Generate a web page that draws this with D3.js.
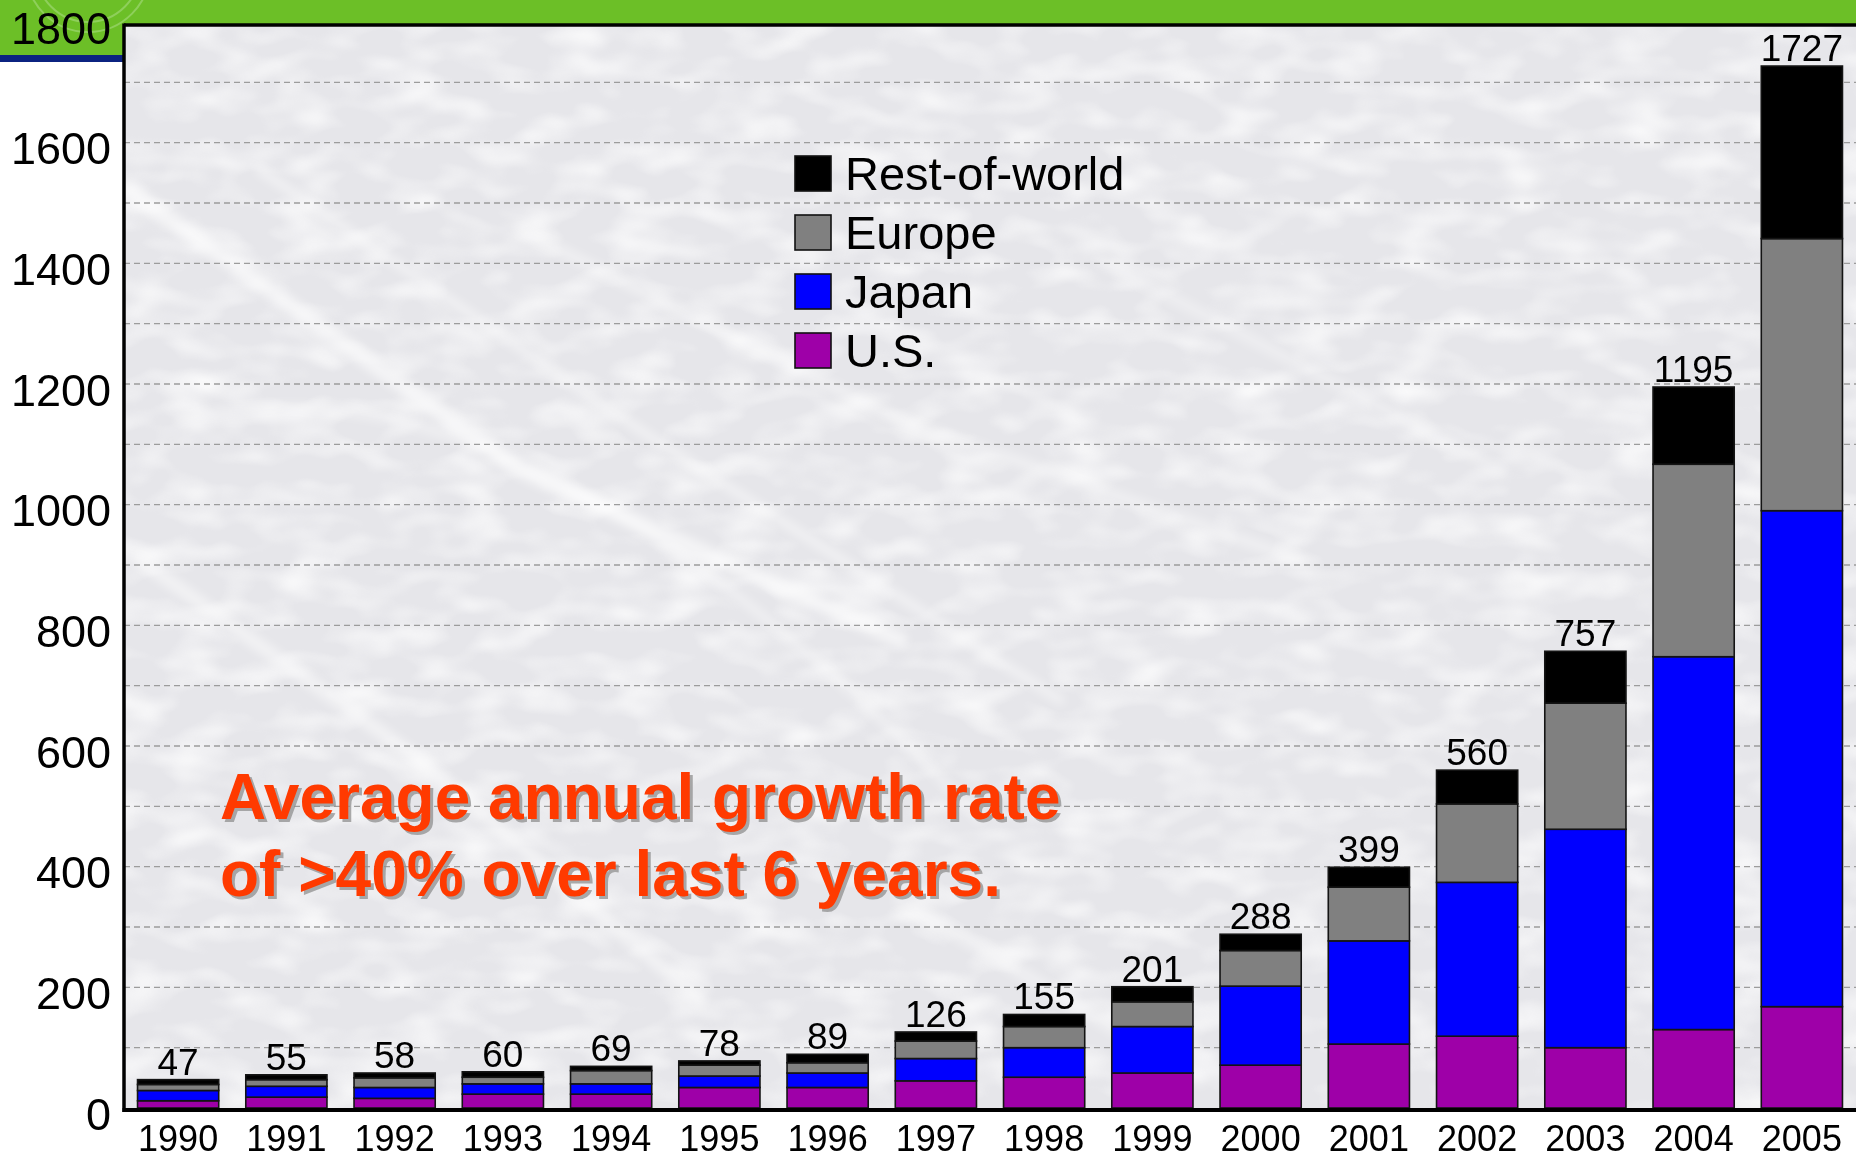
<!DOCTYPE html>
<html>
<head>
<meta charset="utf-8">
<script src="https://cdn.jsdelivr.net/npm/d3@7"></script>
<style>
  html, body { margin: 0; padding: 0; background: #ffffff; }
  svg { display: block; font-family: "Liberation Sans", Arial, Helvetica, sans-serif; }
</style>
</head>
<body>
<script>
// Annual totals by region, 1990-2005
const years = ["1990","1991","1992","1993","1994","1995","1996","1997",
               "1998","1999","2000","2001","2002","2003","2004","2005"];
const us          = [12, 18, 16, 23, 23, 34, 34, 45, 51, 58,  71, 106, 119, 100, 130, 168];
const japan       = [17, 18, 18, 17, 17, 19, 24, 37, 49, 77, 131, 171, 255, 362, 618, 822];
const europe      = [10, 11, 16, 11, 22, 18, 17, 29, 35, 41,  59,  89, 130, 209, 319, 451];
const restOfWorld = [ 8,  8,  8,  9,  7,  7, 14, 15, 20, 25,  27,  33,  56,  86, 128, 286];

const seriesKeys   = ["us", "japan", "europe", "row"];
const seriesNames  = { us: "U.S.", japan: "Japan", europe: "Europe", row: "Rest-of-world" };
const seriesColors = { us: "#9e00a8", japan: "#0000ff", europe: "#808080", row: "#000000" };
const legendOrder  = ["row", "europe", "japan", "us"];

const yTickLabels = [0, 200, 400, 600, 800, 1000, 1200, 1400, 1600, 1800];
const gridValues  = d3.range(100, 1800, 100);

const noteLines = ["Average annual growth rate", "of >40% over last 6 years."];

// ---- layout ----
const W = 1856, H = 1158;
const plotLeft = 124, plotTop = 25, plotBottom = 1108, plotRight = W;

const rows = years.map((yr, i) => ({
  year: yr, us: us[i], japan: japan[i], europe: europe[i], row: restOfWorld[i]
}));
const stacked = d3.stack().keys(seriesKeys)(rows);
const totals = rows.map(r => seriesKeys.reduce((s, k) => s + r[k], 0));

const x = d3.scaleBand().domain(years).range([plotLeft, plotRight])
  .paddingInner(0.25).paddingOuter(0.125);
const y = d3.scaleLinear().domain([0, 1800]).range([plotBottom, 22]);

const svg = d3.select("body").append("svg")
  .attr("width", W).attr("height", H).attr("viewBox", `0 0 ${W} ${H}`);

const defs = svg.append("defs");
defs.append("clipPath").attr("id", "plotClip")
  .append("rect").attr("x", plotLeft).attr("y", plotTop)
  .attr("width", plotRight - plotLeft).attr("height", plotBottom - plotTop);

// soft mottled texture for the plot background
const tex = defs.append("filter").attr("id", "mottle")
  .attr("x", 0).attr("y", 0).attr("width", "100%").attr("height", "100%");
tex.append("feTurbulence").attr("type", "fractalNoise")
  .attr("baseFrequency", "0.018 0.035").attr("numOctaves", 2).attr("seed", 7);
tex.append("feColorMatrix").attr("type", "matrix")
  .attr("values", "0 0 0 0 1  0 0 0 0 1  0 0 0 0 1  2.2 0 0 0 -0.95");

const blur = defs.append("filter").attr("id", "streakBlur")
  .attr("x", "-10%").attr("y", "-10%").attr("width", "120%").attr("height", "120%");
blur.append("feGaussianBlur").attr("stdDeviation", 5);

// ---- top banner ----
svg.append("rect").attr("x", 0).attr("y", 0).attr("width", W).attr("height", 30)
  .attr("fill", "#6cbf27");
svg.append("rect").attr("x", 0).attr("y", 0).attr("width", plotLeft).attr("height", 55)
  .attr("fill", "#6cbf27");
svg.append("rect").attr("x", 0).attr("y", 55).attr("width", plotLeft).attr("height", 7)
  .attr("fill", "#0b2380");
const seal = svg.append("g").attr("opacity", 0.45);
[62, 52].forEach(r => seal.append("circle").attr("cx", 88).attr("cy", -30).attr("r", r)
  .attr("fill", "none").attr("stroke", "#b9e39a").attr("stroke-width", 2));

// ---- plot background ----
const bg = svg.append("g").attr("clip-path", "url(#plotClip)");
bg.append("rect").attr("x", plotLeft).attr("y", plotTop)
  .attr("width", plotRight - plotLeft).attr("height", plotBottom - plotTop)
  .attr("fill", "#e6e6ea");
bg.append("rect").attr("x", plotLeft).attr("y", plotTop)
  .attr("width", plotRight - plotLeft).attr("height", plotBottom - plotTop)
  .attr("filter", "url(#mottle)").attr("opacity", 0.75);
const streaks = bg.append("g").attr("filter", "url(#streakBlur)")
  .attr("stroke", "#ffffff").attr("fill", "none").attr("stroke-linecap", "round");
[
  ["M130,190 L520,470 L900,640", 16, 0.55],
  ["M260,170 L640,430 L1060,700", 10, 0.4],
  ["M140,560 L420,760 L700,1000", 14, 0.45],
  ["M520,230 L900,420 L1300,560", 12, 0.35],
  ["M180,420 C420,360 700,520 980,820", 10, 0.35],
  ["M1100,260 L1500,470", 12, 0.3],
  ["M900,900 L1200,1080", 14, 0.35]
].forEach(([d, w, o]) => streaks.append("path").attr("d", d)
  .attr("stroke-width", w).attr("opacity", o));

// ---- gridlines ----
svg.append("g").selectAll("line").data(gridValues).join("line")
  .attr("x1", plotLeft).attr("x2", plotRight)
  .attr("y1", d => y(d)).attr("y2", d => y(d))
  .attr("stroke", "#9c9c9c").attr("stroke-width", 1.3)
  .attr("stroke-dasharray", "6,4");

// ---- stacked bars ----
svg.append("g").selectAll("g").data(stacked).join("g")
  .attr("fill", d => seriesColors[d.key])
  .selectAll("rect").data(d => d).join("rect")
  .attr("x", d => x(d.data.year))
  .attr("width", x.bandwidth())
  .attr("y", d => y(d[1]))
  .attr("height", d => y(d[0]) - y(d[1]))
  .attr("stroke", "#141414").attr("stroke-width", 1.6);

// total labels
svg.append("g").selectAll("text").data(years).join("text")
  .attr("x", d => x(d) + x.bandwidth() / 2)
  .attr("y", (d, i) => y(totals[i]) - 5)
  .attr("text-anchor", "middle")
  .attr("font-size", 37).attr("fill", "#000")
  .text((d, i) => totals[i]);

// ---- frame ----
svg.append("line").attr("x1", plotLeft).attr("x2", plotRight)
  .attr("y1", plotTop).attr("y2", plotTop)
  .attr("stroke", "#000").attr("stroke-width", 3.5);
svg.append("line").attr("x1", plotLeft).attr("x2", plotLeft)
  .attr("y1", plotTop - 1.5).attr("y2", plotBottom + 4)
  .attr("stroke", "#000").attr("stroke-width", 3.5);
svg.append("line").attr("x1", plotLeft - 1.5).attr("x2", plotRight)
  .attr("y1", plotBottom + 2).attr("y2", plotBottom + 2)
  .attr("stroke", "#000").attr("stroke-width", 4);

// ---- axes ----
const yAxis = svg.append("g").attr("transform", `translate(${plotLeft},0)`)
  .call(d3.axisLeft(y).tickValues(yTickLabels).tickFormat(d3.format("d"))
    .tickSize(0).tickPadding(13));
yAxis.select(".domain").remove();
yAxis.selectAll("text")
  .attr("font-family", "'Liberation Sans', Arial, sans-serif")
  .attr("font-size", 45).attr("fill", "#000").attr("dy", "0.47em");

const xAxis = svg.append("g").attr("transform", `translate(0,${plotBottom})`)
  .call(d3.axisBottom(x).tickSize(0));
xAxis.select(".domain").remove();
xAxis.selectAll("text")
  .attr("font-family", "'Liberation Sans', Arial, sans-serif")
  .attr("font-size", 36).attr("fill", "#000")
  .attr("dy", null)
  .attr("y", 43);

// ---- legend ----
const legend = svg.append("g").attr("transform", "translate(795,156)");
const item = legend.selectAll("g").data(legendOrder).join("g")
  .attr("transform", (d, i) => `translate(0,${i * 59})`);
item.append("rect").attr("width", 36).attr("height", 35)
  .attr("fill", d => seriesColors[d]).attr("stroke", "#111").attr("stroke-width", 1.6);
item.append("text").attr("x", 50).attr("y", 34)
  .attr("font-size", 47).attr("fill", "#000")
  .text(d => seriesNames[d]);

// ---- growth note ----
const note = svg.append("g").attr("font-weight", "bold").attr("font-size", 64);
note.selectAll("text.shadow").data(noteLines).join("text")
  .attr("class", "shadow")
  .attr("x", 223).attr("y", (d, i) => 822 + i * 77)
  .attr("fill", "#8f8f8f").attr("opacity", 0.75)
  .text(d => d);
note.selectAll("text.main").data(noteLines).join("text")
  .attr("class", "main")
  .attr("x", 220).attr("y", (d, i) => 819 + i * 77)
  .attr("fill", "#ff3a00")
  .text(d => d);
</script>
</body>
</html>
